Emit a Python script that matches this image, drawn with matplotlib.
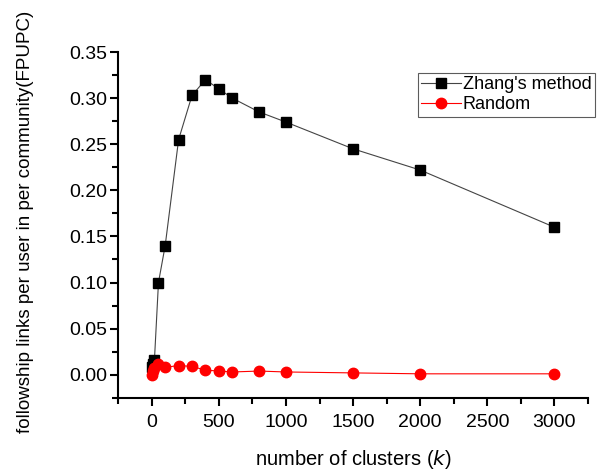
import matplotlib.pyplot as plt
from matplotlib.ticker import MultipleLocator

plt.rcParams['font.family'] = ['Liberation Sans', 'DejaVu Sans']

k_zhang = [5, 10, 20, 50, 100, 200, 300, 400, 500, 600, 800, 1000, 1500, 2000, 3000]
fpupc_zhang = [0.008, 0.012, 0.016, 0.100, 0.140, 0.255, 0.303, 0.320, 0.310, 0.300,
               0.285, 0.274, 0.245, 0.222, 0.160]

k_random = [5, 10, 20, 50, 100, 200, 300, 400, 500, 600, 800, 1000, 1500, 2000, 3000]
fpupc_random = [0.000, 0.004, 0.007, 0.012, 0.008, 0.010, 0.009, 0.005, 0.004, 0.003,
                0.004, 0.003, 0.002, 0.001, 0.001]

fig = plt.figure(figsize=(6, 4.73), dpi=100)
ax = fig.add_axes([0.197, 0.159, 0.783, 0.731])

ax.plot(k_zhang, fpupc_zhang, color='#444444', lw=0.8, marker='s', ms=7,
        mfc='black', mec='black', label="Zhang's method")
ax.plot(k_random, fpupc_random, color='red', lw=0.8, marker='o', ms=7.5,
        mfc='red', mec='red', label='Random')

ax.set_xlim(-250, 3250)
ax.set_ylim(-0.025, 0.35)
ax.xaxis.set_major_locator(MultipleLocator(500))
ax.xaxis.set_minor_locator(MultipleLocator(250))
ax.yaxis.set_major_locator(MultipleLocator(0.05))
ax.yaxis.set_minor_locator(MultipleLocator(0.025))
ax.yaxis.set_major_formatter(plt.FuncFormatter(lambda v, p: f'{v:.2f}'))

for s in ['top', 'right']:
    ax.spines[s].set_visible(False)
for s in ['left', 'bottom']:
    ax.spines[s].set_linewidth(1.5)

ax.tick_params(which='major', direction='out', length=6, width=1.5, labelsize=14)
ax.tick_params(which='minor', direction='out', length=4, width=1.5)
ax.tick_params(axis='x', which='major', pad=6)
ax.tick_params(axis='y', which='major', pad=2)

ax.set_xlabel('number of clusters ($k$)', fontsize=14.5, labelpad=12)
ax.set_ylabel('followship links per user in per community(FPUPC)', fontsize=13.5)
ax.yaxis.set_label_coords(-0.18, 0.51)

leg = ax.legend(loc='upper right', bbox_to_anchor=(1.015, 0.94), fontsize=13,
                frameon=True, fancybox=False, edgecolor='#333333',
                handlelength=2.2, handletextpad=0.1, borderpad=0.2, labelspacing=0.15,
                borderaxespad=0)
leg.get_frame().set_linewidth(0.8)

fig.savefig('out.png', dpi=100)
